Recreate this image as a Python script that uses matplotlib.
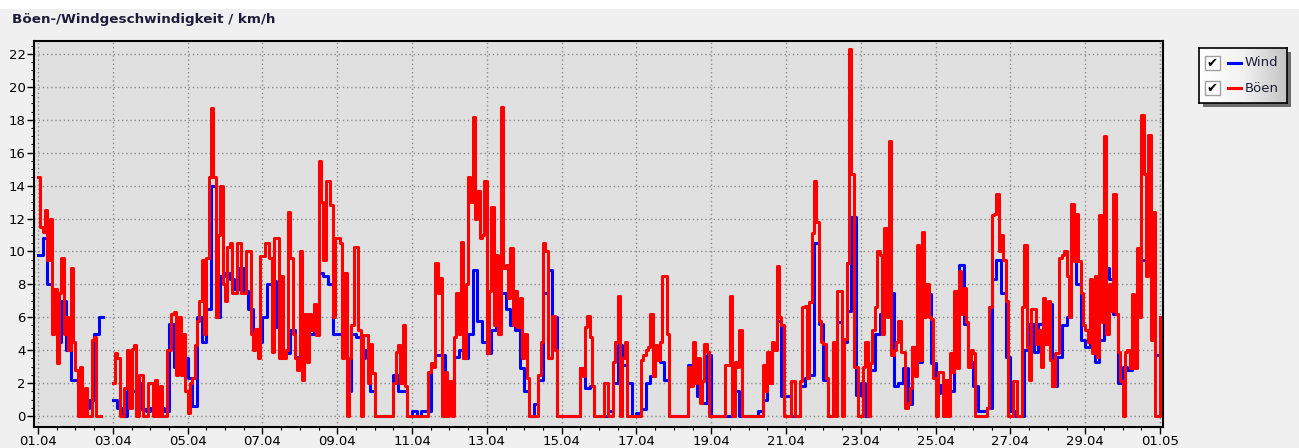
import numpy as np
import matplotlib
matplotlib.use("Agg")
import matplotlib.pyplot as plt
from matplotlib.patches import Rectangle
from matplotlib.colors import LinearSegmentedColormap

nan = np.nan
title = "Böen-/Windgeschwindigkeit / km/h"
tick_labels = ["01.04", "03.04", "05.04", "07.04", "09.04", "11.04", "13.04", "15.04",
               "17.04", "19.04", "21.04", "23.04", "25.04", "27.04", "29.04", "01.05"]
series_names = ["Wind", "Böen"]

# Wind: 3-hourly values, 8 per day (01.04 00:00 ... 01.05 00:00)
wind = [
    9.8, 10.8, 8.0, 6.0, 4.5, 7.0, 4.0, 2.2,
    2.2, 1.0, 0.5, 1.0, 5.0, 6.0, nan, nan,
    1.0, 0.5, 0.0, 1.5, 1.5, 2.0, 0.4, 0.3,
    0.5, 0.5, 0.5, 0.3, 5.6, 3.0, 3.5, 3.5,
    2.3, 0.6, 6.0, 4.5, 6.5, 14.0, 6.0, 8.5,
    8.7, 8.3, 7.7, 9.0, 7.6, 6.5, 5.0, 4.5,
    6.0, 8.0, 8.2, 5.4, 3.6, 3.8, 5.2, 3.6,
    4.0, 5.0, 5.0, 5.8, 8.7, 8.5, 8.0, 5.0,
    5.0, 4.0, 1.5, 5.0, 4.8, 3.5, 4.0, 1.5,
    0.0, 0.0, 0.0, 0.0, 2.5, 1.5, 1.5, 0.0,
    0.3, 0.0, 0.3, 0.3, 3.1, 3.7, 3.7, 0.5,
    1.5, 3.6, 4.0, 3.5, 5.0, 8.9, 5.8, 4.5,
    3.8, 5.2, 6.2, 7.5, 6.5, 5.5, 5.2, 2.9,
    1.5, 0.0, 0.7, 2.2, 7.5, 8.9, 6.0, 0.0,
    0.0, 0.0, 0.0, 0.0, 2.9, 1.7, 1.8, 0.0,
    0.0, 0.0, 0.3, 2.0, 4.3, 3.1, 2.0, 0.0,
    0.2, 0.4, 2.0, 2.4, 3.4, 3.3, 2.2, 0.0,
    0.0, 0.0, 0.0, 3.1, 2.0, 1.2, 0.8, 3.7,
    0.0, 0.0, 0.0, 0.0, 0.0, 1.5, 0.0, 0.0,
    0.0, 0.0, 0.3, 1.0, 2.0, 4.4, 5.8, 1.2,
    1.2, 0.0, 0.0, 1.8, 2.3, 2.5, 10.5, 5.6,
    2.2, 0.0, 4.4, 5.7, 4.5, 6.4, 12.1, 1.3,
    2.0, 0.0, 2.8, 5.0, 6.2, 6.7, 7.5, 1.8,
    2.0, 2.9, 0.7, 4.2, 3.3, 7.4, 7.4, 3.2,
    1.4, 1.9, 2.2, 1.5, 3.4, 9.2, 5.6, 3.3,
    1.8, 0.3, 0.3, 0.5, 8.3, 9.5, 7.5, 3.6,
    0.3, 0.0, 0.0, 4.0, 5.6, 3.9, 5.6, 6.0,
    6.8, 1.8, 3.6, 5.5, 6.0, 10.7, 8.0, 4.6,
    4.2, 4.4, 3.3, 4.6, 9.0, 8.3, 6.2, 2.0,
    3.0, 2.8, 3.0, 6.5, 9.5, 10.7, 8.5, 3.7,
    3.7,
]

# Böen: 1.5-hourly values, 16 per day (01.04 00:00 ... 01.05 00:00)
gust = [
    14.5, 11.5, 11.2, 12.5, 9.5, 12.0, 5.0, 7.7, 3.2, 7.5, 9.6, 5.0, 6.0, 4.0, 9.0, 4.5,
    2.8, 0.0, 3.0, 0.0, 1.7, 0.0, 0.0, 4.6, 4.8, 0.0, 0.0, nan, nan, nan, nan, nan,
    2.0, 3.8, 3.5, 0.0, 0.0, 1.7, 4.0, 0.5, 4.1, 4.3, 0.0, 2.5, 2.5, 0.0, 0.0, 2.0,
    2.0, 0.0, 2.2, 0.0, 1.8, 0.0, 0.0, 4.0, 4.0, 6.2, 6.3, 2.5, 6.0, 2.5, 5.0, 1.5,
    0.2, 2.0, 2.3, 4.3, 5.8, 7.0, 9.5, 5.0, 9.6, 14.5, 18.7, 14.5, 6.0, 11.0, 14.0, 8.0,
    7.0, 10.3, 10.5, 7.5, 7.5, 10.5, 10.5, 7.5, 7.5, 10.0, 10.0, 5.0, 4.0, 5.3, 3.5, 9.7,
    9.7, 10.5, 10.5, 9.6, 3.9, 10.8, 10.8, 3.5, 8.5, 3.5, 4.0, 12.4, 9.6, 5.0, 3.5, 2.8,
    10.0, 2.2, 6.2, 3.3, 6.2, 5.2, 6.8, 4.9, 15.5, 13.0, 9.5, 14.3, 14.3, 12.8, 6.0, 10.8,
    10.8, 10.5, 3.5, 8.7, 0.0, 3.5, 5.5, 10.3, 10.3, 5.2, 0.0, 4.9, 4.9, 2.0, 4.4, 2.6,
    0.0, 0.0, 0.0, 0.0, 0.0, 0.0, 0.0, 0.0, 2.0, 3.9, 4.3, 2.0, 5.5, 1.8, 0.0, 0.0,
    0.0, 0.0, 0.0, 0.0, 0.0, 0.0, 0.0, 2.7, 3.2, 3.0, 9.3, 7.5, 8.4, 0.0, 2.7, 0.0,
    2.1, 0.0, 4.8, 7.5, 5.0, 10.6, 3.5, 8.0, 14.5, 13.0, 18.2, 12.0, 13.7, 10.8, 11.0, 14.3,
    3.8, 7.6, 12.7, 5.5, 9.8, 5.0, 18.8, 9.0, 9.2, 7.2, 10.2, 5.5, 7.6, 5.4, 7.2, 3.5,
    5.0, 2.3, 0.0, 0.0, 0.0, 0.0, 2.5, 4.5, 10.5, 10.0, 3.5, 3.5, 6.1, 4.0, 0.0, 0.0,
    0.0, 0.0, 0.0, 0.0, 0.0, 0.0, 0.0, 0.0, 2.9, 2.4, 5.4, 6.1, 4.8, 1.8, 0.0, 0.0,
    0.0, 0.0, 2.0, 2.0, 0.0, 0.0, 3.3, 4.5, 7.3, 0.0, 3.5, 4.5, 0.0, 0.0, 0.0, 0.0,
    0.0, 0.0, 3.4, 3.7, 4.0, 4.2, 6.2, 2.4, 4.3, 3.4, 4.5, 8.5, 8.5, 5.0, 0.0, 0.0,
    0.0, 0.0, 0.0, 0.0, 0.0, 0.0, 3.0, 1.8, 4.5, 2.0, 3.5, 0.8, 2.1, 4.4, 3.9, 0.0,
    0.0, 0.0, 0.0, 0.0, 0.0, 0.0, 3.1, 3.1, 7.3, 0.0, 3.3, 3.0, 5.2, 0.0, 0.0, 0.0,
    0.0, 0.0, 0.0, 0.0, 0.0, 0.0, 3.1, 1.5, 3.9, 2.0, 4.5, 4.0, 9.1, 6.0, 5.5, 0.0,
    0.0, 0.0, 2.1, 2.1, 0.0, 0.0, 2.1, 6.6, 6.7, 2.3, 6.9, 11.1, 14.3, 11.8, 5.8, 4.5,
    4.4, 2.3, 0.0, 0.0, 4.5, 0.0, 7.6, 7.6, 0.0, 4.7, 9.3, 22.3, 14.7, 3.0, 3.0, 0.0,
    0.0, 3.0, 4.5, 0.0, 3.2, 5.2, 6.6, 10.0, 9.8, 5.0, 11.4, 6.0, 16.7, 3.7, 4.0, 4.5,
    5.8, 3.9, 3.9, 0.5, 0.8, 1.7, 4.2, 2.4, 10.4, 3.4, 11.2, 6.0, 8.0, 6.0, 5.9, 2.3,
    0.0, 2.7, 2.7, 0.0, 2.2, 0.0, 3.8, 2.7, 7.6, 2.9, 8.8, 6.2, 7.8, 5.7, 3.0, 4.0,
    3.8, 0.0, 0.0, 0.0, 0.0, 0.0, 0.5, 6.6, 12.2, 12.3, 13.5, 10.0, 11.0, 9.5, 7.0, 0.0,
    0.0, 2.1, 2.1, 0.0, 0.0, 6.6, 10.4, 4.2, 2.2, 6.5, 6.5, 4.4, 5.2, 3.0, 7.2, 4.4,
    7.0, 3.4, 1.8, 3.8, 3.8, 9.6, 9.8, 10.0, 8.5, 6.0, 12.9, 9.4, 12.3, 9.4, 7.5, 5.5,
    5.2, 4.5, 8.3, 3.8, 8.5, 3.6, 12.2, 5.7, 17.0, 5.0, 8.0, 6.4, 13.5, 6.2, 3.9, 2.1,
    0.0, 3.9, 4.0, 2.9, 7.4, 2.9, 10.2, 6.0, 18.3, 14.7, 8.5, 17.1, 4.6, 12.4, 0.0, 0.0,
    6.0,
]

wind_days = np.arange(len(wind)) / 8.0
gust_days = np.arange(len(gust)) / 16.0

W, H = 1299, 448
def fx(px):
    return px / W
def fy(py):
    return 1 - py / H

plt.rcParams["font.family"] = ["DejaVu Sans"]

fig = plt.figure(figsize=(W / 100, H / 100), dpi=100, facecolor="#f0f0f0")
fig.patches.append(Rectangle((0, fy(9)), 1, 9 / H, transform=fig.transFigure,
                             facecolor="white", edgecolor="none", zorder=0))

fig.text(fx(12), fy(19), title, fontsize=9.7, fontweight="bold", color="#1c1c3c",
         ha="left", va="center")

ax = fig.add_axes([fx(34), fy(427), (1163 - 34) / W, (427 - 41) / H])
ax.set_facecolor("#e0e0e0")
ax.step(wind_days, wind, where="post", color="#0000ff", lw=2.2, zorder=3)
ax.step(gust_days, gust, where="post", color="#ff0000", lw=2.2, zorder=4)

ax.set_xlim(-0.107, 30.08)
ax.set_ylim(-0.67, 22.79)
ax.set_xticks(np.arange(0, 31, 2))
ax.set_xticklabels(tick_labels)
ax.set_xticks(np.arange(0, 30.01, 0.5), minor=True)
ax.set_yticks(np.arange(0, 23, 2))
ax.set_yticks(np.arange(0, 22.51, 0.5), minor=True)
ax.tick_params(which="major", direction="out", length=5, width=1, labelsize=9.5,
               colors="black", pad=1)
ax.tick_params(which="minor", direction="out", length=2.5, width=0.8, colors="black")
ax.grid(True, which="major", linestyle=(0, (1, 2)), color="#8c8c8c", lw=1)
ax.set_axisbelow(True)
for s in ax.spines.values():
    s.set_linewidth(1.5)
    s.set_color("black")

# legend box with shadow and gradient
lx0, ly0, lx1, ly1 = 1199, 48, 1287, 103
fig.patches.append(Rectangle((fx(lx0 + 4), fy(ly1 + 4)), (lx1 - lx0) / W, (ly1 - ly0) / H,
                             transform=fig.transFigure, facecolor="#6e6e6e",
                             edgecolor="none", zorder=1))
lax = fig.add_axes([fx(lx0), fy(ly1), (lx1 - lx0) / W, (ly1 - ly0) / H], zorder=2)
grad = np.linspace(0, 1, 100).reshape(1, -1)
cmap = LinearSegmentedColormap.from_list("g", ["#ffffff", "#f2f2f2", "#c4c4c4"])
lax.imshow(grad, aspect="auto", cmap=cmap, extent=[0, 1, 0, 1])
lax.set_xlim(0, 1)
lax.set_ylim(0, 1)
lax.set_xticks([])
lax.set_yticks([])
for s in lax.spines.values():
    s.set_linewidth(1.2)
    s.set_color("black")

colors = ["#0000ff", "#ff0000"]
for i, (name, col) in enumerate(zip(series_names, colors)):
    cy = 63 + i * 25.5
    fig.patches.append(Rectangle((fx(1205), fy(cy + 7)), 15 / W, 14 / H,
                                 transform=fig.transFigure, facecolor="white",
                                 edgecolor="#a0a0a0", lw=1, zorder=5))
    fig.text(fx(1212.5), fy(cy), "\u2714", fontsize=9.5, color="black",
             ha="center", va="center", family="DejaVu Sans", zorder=6)
    fig.lines.append(plt.Line2D([fx(1228), fx(1241)], [fy(cy), fy(cy)],
                                transform=fig.transFigure, color=col, lw=2.2, zorder=6))
    fig.text(fx(1245), fy(cy), name, fontsize=9.5, color="#1c1c3c",
             ha="left", va="center", zorder=6)

fig.savefig("out.png", dpi=100, facecolor=fig.get_facecolor())
